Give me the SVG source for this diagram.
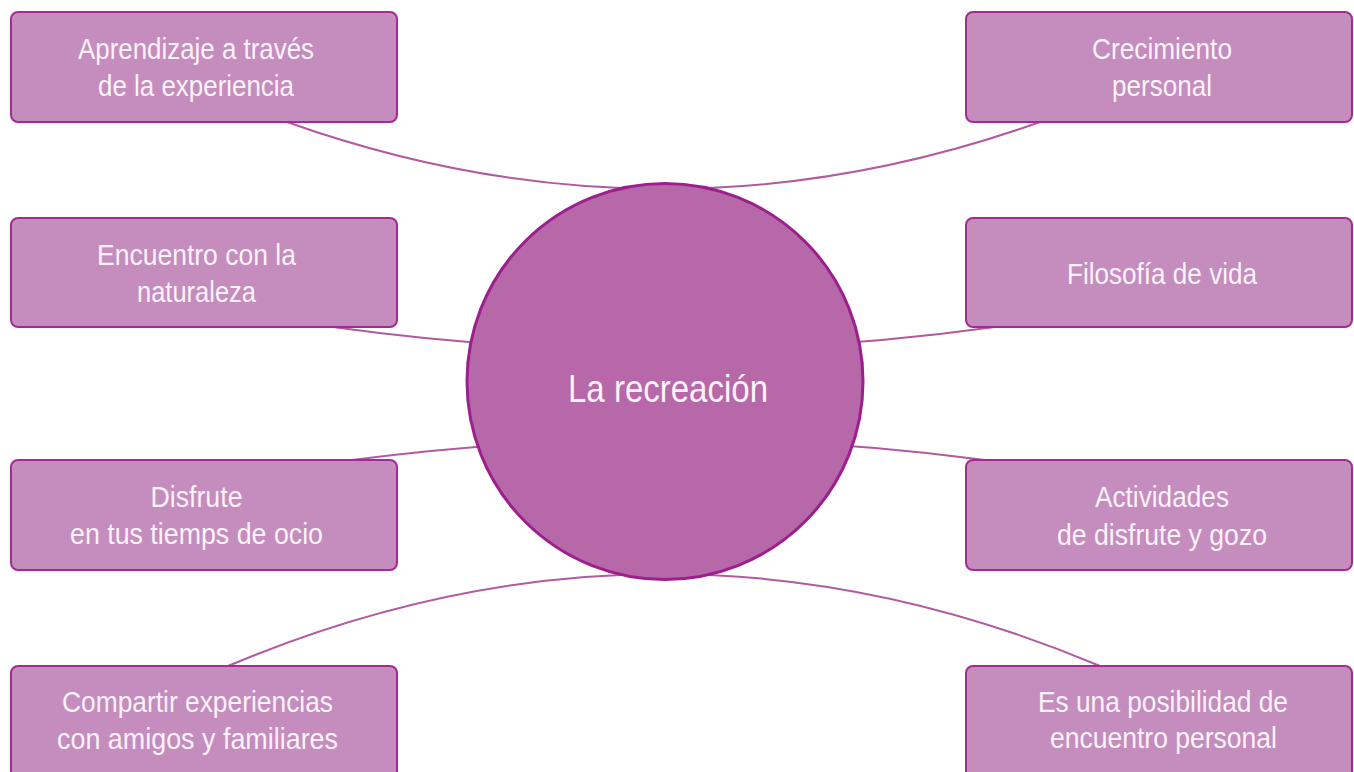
<svg xmlns="http://www.w3.org/2000/svg" width="1354" height="772" viewBox="0 0 1354 772">
<style>
.box{fill:#c58cbe;stroke:#a52a93;stroke-width:2}
.lbl{font-family:"Liberation Sans",Arial,sans-serif;font-size:29px;fill:#fbf3f9;text-anchor:middle}
.con{fill:none;stroke:#b15aa2;stroke-width:2}
</style>
<rect width="1354" height="772" fill="#ffffff"/>
<g id="connectors">
<path class="con" d="M287,122 Q663.5,256 1040,122"/>
<path class="con" d="M333,327 Q664,373 995,327"/>
<path class="con" d="M352,460 Q668.5,418.5 985,460"/>
<path class="con" d="M228,666 Q664,482 1100,666"/>
</g>
<g id="n1"><rect class="box" x="11" y="12" width="386" height="110" rx="7"/><text class="lbl" x="196" y="59" textLength="236" lengthAdjust="spacingAndGlyphs">Aprendizaje a través</text><text class="lbl" x="196" y="96" textLength="196" lengthAdjust="spacingAndGlyphs">de la experiencia</text></g>
<g id="n2"><rect class="box" x="11" y="218" width="386" height="109" rx="7"/><text class="lbl" x="196.5" y="265" textLength="199" lengthAdjust="spacingAndGlyphs">Encuentro con la</text><text class="lbl" x="196.5" y="302" textLength="119" lengthAdjust="spacingAndGlyphs">naturaleza</text></g>
<g id="n3"><rect class="box" x="11" y="460" width="386" height="110" rx="7"/><text class="lbl" x="196.5" y="507" textLength="92" lengthAdjust="spacingAndGlyphs">Disfrute</text><text class="lbl" x="196.5" y="544" textLength="253" lengthAdjust="spacingAndGlyphs">en tus tiemps de ocio</text></g>
<g id="n4"><rect class="box" x="11" y="666" width="386" height="120" rx="7"/><text class="lbl" x="197.5" y="712" textLength="271" lengthAdjust="spacingAndGlyphs">Compartir experiencias</text><text class="lbl" x="197.5" y="749" textLength="281" lengthAdjust="spacingAndGlyphs">con amigos y familiares</text></g>
<g id="n5"><rect class="box" x="966" y="12" width="386" height="110" rx="7"/><text class="lbl" x="1162" y="59" textLength="140" lengthAdjust="spacingAndGlyphs">Crecimiento</text><text class="lbl" x="1162" y="96" textLength="100" lengthAdjust="spacingAndGlyphs">personal</text></g>
<g id="n6"><rect class="box" x="966" y="218" width="386" height="109" rx="7"/><text class="lbl" x="1162" y="284" textLength="190" lengthAdjust="spacingAndGlyphs">Filosofía de vida</text></g>
<g id="n7"><rect class="box" x="966" y="460" width="386" height="110" rx="7"/><text class="lbl" x="1162" y="507" textLength="134" lengthAdjust="spacingAndGlyphs">Actividades</text><text class="lbl" x="1162" y="545" textLength="210" lengthAdjust="spacingAndGlyphs">de disfrute y gozo</text></g>
<g id="n8"><rect class="box" x="966" y="666" width="386" height="120" rx="7"/><text class="lbl" x="1163" y="712" textLength="250" lengthAdjust="spacingAndGlyphs">Es una posibilidad de</text><text class="lbl" x="1163.5" y="748" textLength="227" lengthAdjust="spacingAndGlyphs">encuentro personal</text></g>
<g id="center"><circle cx="665" cy="381.5" r="198" fill="#b668a8" stroke="#9c1f8d" stroke-width="3"/><text class="lbl" x="668" y="402" textLength="200" lengthAdjust="spacingAndGlyphs" style="font-size:39px">La recreación</text></g>
</svg>
